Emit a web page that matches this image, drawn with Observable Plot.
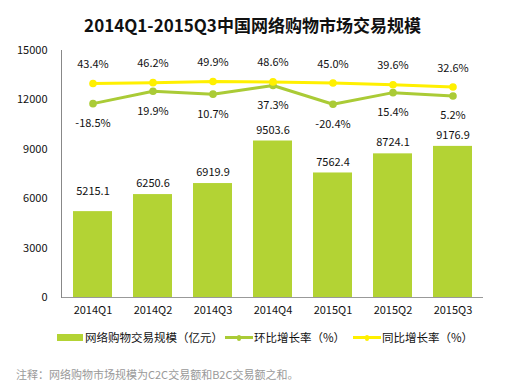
<!DOCTYPE html>
<html>
<head>
<meta charset="utf-8">
<script src="https://cdn.jsdelivr.net/npm/d3@7"></script>
<script src="https://cdn.jsdelivr.net/npm/@observablehq/plot@0.6"></script>
<style>
  html, body { margin: 0; padding: 0; background: #fff; }
  #wrap { position: relative; width: 505px; height: 387px; font-family: "Noto Sans CJK SC", "Noto Sans", sans-serif; color: #111; }
  #chart { position: absolute; left: 0; top: 0; }
  .title { position: absolute; left: 0; width: 505px; top: 12px; text-align: center; font-size: 17px; font-weight: bold; line-height: 26px; }
  .legend { position: absolute; top: 328px; left: 0; height: 18px; font-size: 11.5px; line-height: 18px; white-space: nowrap; }
  .legend .item { position: absolute; top: 0; }
  .sw-bar { position: absolute; top: 6px; width: 26px; height: 7px; }
  .sw-line { position: absolute; top: 8px; width: 28px; height: 3px; }
  .sw-line i { position: absolute; left: 12px; top: -1.5px; width: 4px; height: 6px; border-radius: 2px; }
  .note { position: absolute; left: 16px; top: 366px; font-size: 11px; line-height: 16px; color: #999; white-space: nowrap; }
</style>
</head>
<body>
<div id="wrap">
  <div id="chart"></div>
  <div class="title" id="title"></div>
  <div class="legend" id="legend"></div>
  <div class="note" id="note"></div>
</div>
<script>
// ---- data ----
const quarters = ["2014Q1", "2014Q2", "2014Q3", "2014Q4", "2015Q1", "2015Q2", "2015Q3"];
const marketSize = [5215.1, 6250.6, 6919.9, 9503.6, 7562.4, 8724.1, 9176.9];   // 亿元
const qoqGrowth = [-18.5, 19.9, 10.7, 37.3, -20.4, 15.4, 5.2];               // 环比 %
const yoyGrowth = [43.4, 46.2, 49.9, 48.6, 45.0, 39.6, 32.6];                // 同比 %
const yTicks = [0, 3000, 6000, 9000, 12000, 15000];
const titleText = "2014Q1-2015Q3中国网络购物市场交易规模";
const seriesNames = ["网络购物交易规模（亿元）", "环比增长率（%）", "同比增长率（%）"];
const noteText = "注释：网络购物市场规模为C2C交易额和B2C交易额之和。";

// secondary (hidden) percentage axis, mapped onto the primary value axis
const rateDomain = [-617, 145.5];
const primaryDomain = [0, 15000];
const toPrimary = d3.scaleLinear().domain(rateDomain).range(primaryDomain);

const barColor = "#B3D334";
const qoqColor = "#AACB36";
const yoyColor = "#FFF000";

const bars = quarters.map((q, i) => ({q, v: marketSize[i], i}));
const qoq = quarters.map((q, i) => ({q, r: qoqGrowth[i], y: toPrimary(qoqGrowth[i])}));
const yoy = quarters.map((q, i) => ({q, r: yoyGrowth[i], y: toPrimary(yoyGrowth[i])}));
const pct = d => d.toFixed(1) + "%";

const chart = Plot.plot({
  width: 505,
  height: 387,
  marginTop: 50,
  marginBottom: 90,
  marginLeft: 61,
  marginRight: 22,
  style: {fontFamily: '"Noto Sans CJK SC", "Noto Sans", sans-serif', fontSize: "11px", color: "#111", background: "transparent"},
  x: {domain: quarters, paddingInner: 0.35, paddingOuter: 0.175},
  y: {domain: primaryDomain},
  marks: [
    Plot.barY(bars, {x: "q", y: "v", fill: barColor}),
    Plot.ruleY([0], {stroke: "#999", strokeWidth: 1}),
    Plot.frame({anchor: "left", stroke: "#888"}),
    Plot.axisY({ticks: yTicks, tickSize: 0, tickPadding: 14, label: null, tickFormat: d => String(d), fontSize: 11}),
    Plot.axisX({tickSize: 0, tickPadding: 9, label: null, fontSize: 11}),
    Plot.text(bars.filter(d => d.i === 0), {x: "q", y: "v", text: d => d.v.toFixed(1), dy: -20, fontSize: 11, fill: "#111"}),
    Plot.text(bars.filter(d => d.i > 0), {x: "q", y: "v", text: d => d.v.toFixed(1), dy: -11, fontSize: 11, fill: "#111"}),
    Plot.line(qoq, {x: "q", y: "y", stroke: qoqColor, strokeWidth: 3}),
    Plot.dot(qoq, {x: "q", y: "y", r: 3.8, fill: qoqColor}),
    Plot.line(yoy, {x: "q", y: "y", stroke: yoyColor, strokeWidth: 3}),
    Plot.dot(yoy, {x: "q", y: "y", r: 3.8, fill: yoyColor}),
    Plot.text(yoy, {x: "q", y: "y", text: d => pct(d.r), dy: -19, fontSize: 11, fill: "#111"}),
    Plot.text(qoq, {x: "q", y: "y", text: d => pct(d.r), dy: 20, fontSize: 11, fill: "#111"})
  ]
});
document.getElementById("chart").appendChild(chart);

// title, legend, note
document.getElementById("title").textContent = titleText;
document.getElementById("note").textContent = noteText;
const legend = document.getElementById("legend");
const items = [
  {name: seriesNames[0], kind: "bar", color: barColor, left: 57},
  {name: seriesNames[1], kind: "line", color: qoqColor, left: 225},
  {name: seriesNames[2], kind: "line", color: yoyColor, left: 353}
];
for (const it of items) {
  const el = document.createElement("div");
  el.className = "item";
  el.style.left = it.left + "px";
  const sw = document.createElement("span");
  if (it.kind === "bar") {
    sw.className = "sw-bar";
    sw.style.left = "0px";
  } else {
    sw.className = "sw-line";
    sw.style.left = "0px";
    const m = document.createElement("i");
    m.style.background = it.color;
    sw.appendChild(m);
  }
  sw.style.background = it.color;
  el.appendChild(sw);
  const t = document.createElement("span");
  t.style.position = "absolute";
  t.style.left = (it.kind === "bar" ? 28 : 29) + "px";
  t.textContent = it.name;
  el.appendChild(t);
  legend.appendChild(el);
}
</script>
</body>
</html>
